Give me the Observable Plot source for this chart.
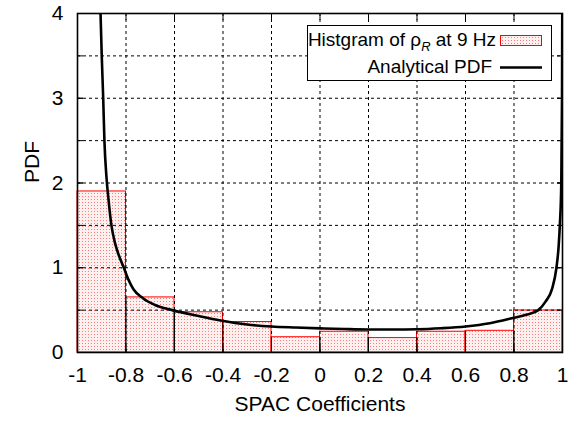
<!DOCTYPE html>
<html>
<head>
<meta charset="utf-8">
<script src="https://cdn.jsdelivr.net/npm/d3@7"></script>
<script src="https://cdn.jsdelivr.net/npm/@observablehq/plot@0.6"></script>
<style>
  html, body { margin: 0; padding: 0; background: #fff; }
  #chart { position: relative; width: 577px; height: 423px; }
  svg { font-family: "Liberation Sans", Arial, Helvetica, sans-serif; }
</style>
</head>
<body>
<div id="chart"></div>
<script>
// ---- data ----
const binEdges = [-1, -0.8, -0.6, -0.4, -0.2, 0, 0.2, 0.4, 0.6, 0.8, 1];
const histValues = [1.90, 0.65, 0.475, 0.36, 0.18, 0.245, 0.17, 0.245, 0.256, 0.496];
const curveX = [-0.905, -0.9, -0.894, -0.889, -0.88, -0.872, -0.86, -0.846, -0.83, -0.809, -0.79, -0.77, -0.73, -0.68, -0.61, -0.5, -0.41, -0.3, -0.2, -0.1, 0, 0.1, 0.2, 0.3, 0.4, 0.5, 0.6, 0.7, 0.8, 0.85, 0.9, 0.93, 0.957, 0.975, 0.984, 0.989, 0.995, 0.998, 0.999];
const curveY = [4, 3.5, 3, 2.5, 2.05, 1.8, 1.5, 1.3, 1.15, 1.0, 0.86, 0.75, 0.64, 0.56, 0.5, 0.43, 0.378, 0.33, 0.307, 0.295, 0.285, 0.277, 0.272, 0.272, 0.275, 0.287, 0.307, 0.345, 0.41, 0.445, 0.5, 0.6, 0.75, 1.0, 1.25, 1.5, 2.0, 3.0, 4.0];
const xTicks = [-1, -0.8, -0.6, -0.4, -0.2, 0, 0.2, 0.4, 0.6, 0.8, 1];
const yTicks = [0, 1, 2, 3, 4];
const yGrid = [0.5, 1, 1.5, 2, 2.5, 3, 3.5];
const xLabel = "SPAC Coefficients";
const yLabel = "PDF";
const legendHist = ["Histgram of ρ", "R", " at 9 Hz"];
const legendCurve = "Analytical PDF";

// ---- tables built from the arrays ----
const bins = histValues.map((v, i) => ({x1: binEdges[i], x2: binEdges[i + 1], y: v}));
const inner = binEdges.slice(1, -1).map((e, i) => ({x: e, y: Math.min(histValues[i], histValues[i + 1])}));
const curve = curveX.map((x, i) => ({x, y: curveY[i]}));
const fmt = d => String(+d.toFixed(1));

const plot = Plot.plot({
  width: 577,
  height: 423,
  marginLeft: 77,
  marginRight: 15,
  marginTop: 13,
  marginBottom: 71,
  style: {fontFamily: '"Liberation Sans", Arial, sans-serif', fontSize: "21px", color: "#000", background: "#fff"},
  x: {domain: [-1, 1]},
  y: {domain: [0, 4]},
  marks: [
    Plot.rectY(bins, {x1: "x1", x2: "x2", y1: 0, y2: "y", fill: "url(#histpat)", stroke: "#ff0000", strokeWidth: 1}),
    Plot.ruleX(inner, {x: "x", y1: 0, y2: "y", stroke: "#000", strokeWidth: 1}),
    Plot.gridX(xTicks.slice(1, -1), {stroke: "#000", strokeOpacity: 1, strokeDasharray: "3,3", strokeWidth: 1}),
    Plot.gridY(yGrid, {stroke: "#000", strokeOpacity: 1, strokeDasharray: "3,3", strokeWidth: 1}),
    Plot.line(curve, {x: "x", y: "y", stroke: "#000", strokeWidth: 2.6, curve: "monotone-x", clip: true}),
    Plot.axisX(xTicks, {anchor: "bottom", tickSize: 0, tickPadding: 15, tickFormat: fmt, fontSize: 21, label: null}),
    Plot.axisX(xTicks, {anchor: "bottom", tickSize: -6, tickFormat: () => "", label: null, strokeWidth: 1}),
    Plot.axisX(xTicks, {anchor: "top", tickSize: -6, tickFormat: () => "", label: null, strokeWidth: 1}),
    Plot.axisY(yTicks, {anchor: "left", tickSize: 0, tickPadding: 14, tickFormat: fmt, fontSize: 21, label: null}),
    Plot.axisY([...yTicks, ...yGrid], {anchor: "left", tickSize: -6, tickFormat: () => "", label: null, strokeWidth: 1}),
    Plot.axisY([...yTicks, ...yGrid], {anchor: "right", tickSize: -6, tickFormat: () => "", label: null, strokeWidth: 1}),
    Plot.text([xLabel], {frameAnchor: "bottom", dy: 58, fontSize: 21, text: d => d}),
    Plot.text([yLabel], {frameAnchor: "left", dx: -45, rotate: -90, fontSize: 21, text: d => d}),
    Plot.frame({stroke: "#000", strokeWidth: 1.6})
  ]
});

document.getElementById("chart").appendChild(plot);

// pattern fill for the histogram bars
const svg = d3.select(plot);
const defs = svg.insert("defs", ":first-child");
const pat = defs.append("pattern").attr("id", "histpat").attr("patternUnits", "userSpaceOnUse")
  .attr("width", 3).attr("height", 3);
pat.append("rect").attr("width", 3).attr("height", 3).attr("fill", "#fff0f0");
pat.append("rect").attr("x", 1).attr("y", 1).attr("width", 1).attr("height", 1).attr("fill", "#ff7a7a");

// legend inside the plot area (top right)
const lg = svg.append("g").attr("font-size", 19).attr("font-family", '"Liberation Sans", Arial, sans-serif');
lg.append("rect").attr("x", 307.5).attr("y", 25.5).attr("width", 244).attr("height", 55)
  .attr("fill", "#fff").attr("stroke", "#000").attr("stroke-width", 1);
const t1 = lg.append("text").attr("x", 496).attr("y", 45.5).attr("text-anchor", "end");
t1.append("tspan").text(legendHist[0]);
t1.append("tspan").attr("font-style", "italic").attr("font-size", 13).attr("dy", 5).text(legendHist[1]);
t1.append("tspan").attr("dy", -5).text(legendHist[2]);
lg.append("rect").attr("x", 500.5).attr("y", 35.5).attr("width", 41).attr("height", 10)
  .attr("fill", "url(#histpat)").attr("stroke", "#ff0000").attr("stroke-width", 1);
lg.append("text").attr("x", 492).attr("y", 72.5).attr("text-anchor", "end").text(legendCurve);
lg.append("line").attr("x1", 500).attr("x2", 542).attr("y1", 67.5).attr("y2", 67.5)
  .attr("stroke", "#000").attr("stroke-width", 2.6);
</script>
</body>
</html>
